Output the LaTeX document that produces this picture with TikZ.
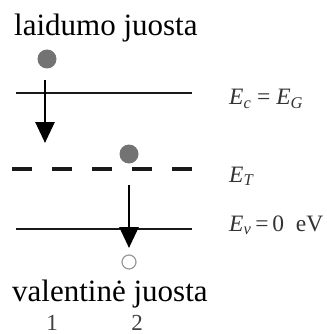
\documentclass[tikz,border=0pt]{standalone}
\usepackage{fontspec}
\setmainfont{Liberation Serif}
\usetikzlibrary{arrows.meta}
\begin{document}
\begin{tikzpicture}[x=1pt,y=-1pt,
  level/.style={line width=2.8pt, black!90},
  trap/.style={line width=3.8pt, black!90, dash pattern=on 20pt off 20pt},
  trans/.style={line width=2.8pt, black, -{Triangle[length=21pt,width=19pt]}},
  electron/.style={circle, fill=black!55, minimum size=19pt, inner sep=0pt},
  hole/.style={circle, draw=black!40, line width=1.2pt, minimum size=14pt, inner sep=0pt},
  band/.style={font=\fontsize{31}{33}\selectfont, inner sep=0pt, anchor=base west},
  elab/.style={font=\fontsize{23.5}{25}\selectfont, text=black!80, inner sep=0pt, anchor=base west},
  num/.style={font=\fontsize{23}{24}\selectfont, text=black!75, inner sep=0pt, anchor=base}]
\useasboundingbox (0,0) rectangle (326,334);
% band labels
\node[band] (cb) at (14,36) {laidumo juosta};
\node[band] (vb) at (12,301) {valentinė juosta};
% levels
\coordinate (ecL) at (16,93); \coordinate (ecR) at (192,93);
\coordinate (etL) at (12,169); \coordinate (etR) at (192,169);
\coordinate (evL) at (16,229); \coordinate (evR) at (192,229);
\draw[level] (ecL) -- (ecR);
\draw[trap] (etL) -- (etR);
\draw[level] (evL) -- (evR);
% particles
\node[electron] (e1) at (47,59) {};
\node[electron] (e2) at (129,154) {};
\node[hole] (h2) at (129,262) {};
% transitions
\coordinate (a1s) at (45,80); \coordinate (a1e) at (45,143);
\coordinate (a2s) at (129,185); \coordinate (a2e) at (129,248);
\draw[trans] (a1s) -- (a1e);
\draw[trans] (a2s) -- (a2e);
% energy labels
\node[elab] (lec) at (229,105) {\textit{E}\textsubscript{\textit{c}} = \textit{E}\textsubscript{\textit{G}}};
\node[elab] (let) at (229,182) {\textit{E}\textsubscript{\textit{T}}};
\node[elab] (lev) at (229,231) {\textit{E}\textsubscript{\textit{v}}\,=\,0\ \ eV};
% numbers
\node[num] (n1) at (52,330) {1};
\node[num] (n2) at (137,330) {2};
\end{tikzpicture}
\end{document}
